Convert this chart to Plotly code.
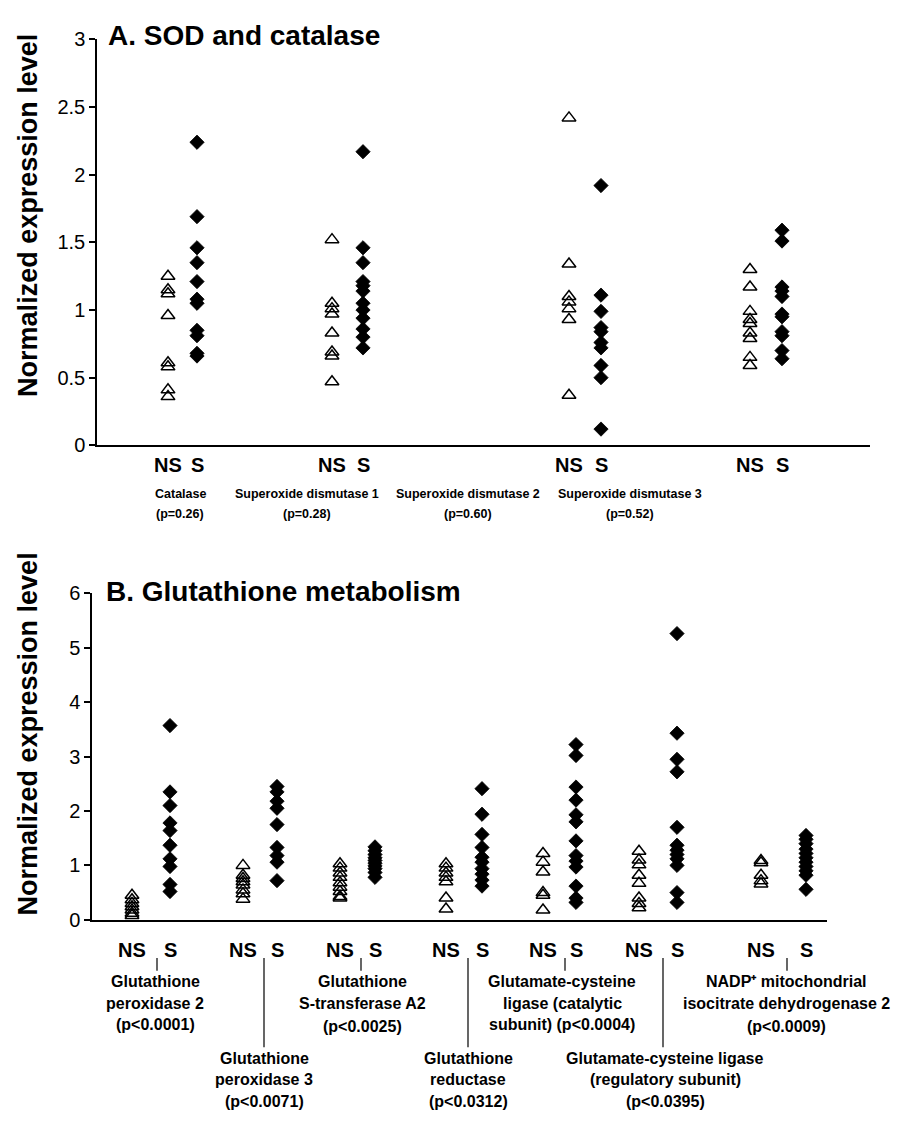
import plotly.graph_objects as go

W, H = 898, 1121

# ---------------- Data: Panel A (SOD and catalase) ----------------
A_GENES = ["Catalase", "Superoxide dismutase 1", "Superoxide dismutase 2", "Superoxide dismutase 3"]
A_PVALS = ["(p=0.26)", "(p=0.28)", "(p=0.60)", "(p=0.52)"]
A_NS = [
    [1.25, 1.15, 1.12, 0.96, 0.61, 0.58, 0.41, 0.36],
    [1.52, 1.05, 1.01, 0.97, 0.83, 0.69, 0.66, 0.47],
    [2.42, 1.34, 1.10, 1.06, 1.01, 0.93, 0.37],
    [1.30, 1.17, 0.99, 0.93, 0.90, 0.83, 0.79, 0.65, 0.59],
]
A_S = [
    [2.24, 1.69, 1.46, 1.35, 1.21, 1.08, 1.05, 0.85, 0.81, 0.68, 0.66],
    [2.17, 1.46, 1.35, 1.21, 1.18, 1.14, 1.05, 1.00, 0.94, 0.86, 0.80, 0.72],
    [1.92, 1.11, 0.99, 0.87, 0.84, 0.76, 0.72, 0.59, 0.50, 0.12],
    [1.59, 1.51, 1.17, 1.14, 1.10, 0.97, 0.95, 0.84, 0.81, 0.70, 0.64],
]
A_YTICKS = [0, 0.5, 1, 1.5, 2, 2.5, 3]
A_YTICKTEXT = ["0", "0.5", "1", "1.5", "2", "2.5", "3"]

# ---------------- Data: Panel B (Glutathione metabolism) ----------------
B_LABELS = [
    ["Glutathione", "peroxidase 2", "(p<0.0001)"],
    ["Glutathione", "peroxidase 3", "(p<0.0071)"],
    ["Glutathione", "S-transferase A2", "(p<0.0025)"],
    ["Glutathione", "reductase", "(p<0.0312)"],
    ["Glutamate-cysteine", "ligase (catalytic", "subunit) (p<0.0004)"],
    ["Glutamate-cysteine ligase", "(regulatory subunit)", "(p<0.0395)"],
    ["NADP\u207a mitochondrial", "isocitrate dehydrogenase 2", "(p<0.0009)"],
]
B_NS = [
    [0.45, 0.37, 0.30, 0.24, 0.18, 0.12, 0.08],
    [1.00, 0.82, 0.76, 0.70, 0.64, 0.55, 0.48, 0.38],
    [1.03, 0.95, 0.86, 0.78, 0.68, 0.60, 0.52, 0.43, 0.40],
    [1.03, 0.95, 0.86, 0.78, 0.70, 0.40, 0.20],
    [1.22, 1.06, 0.88, 0.50, 0.45, 0.18],
    [1.26, 1.10, 1.01, 0.82, 0.67, 0.40, 0.30, 0.22],
    [1.09, 1.05, 0.82, 0.72, 0.66],
]
B_S = [
    [3.57, 2.35, 2.10, 1.78, 1.64, 1.37, 1.12, 0.98, 0.65, 0.52],
    [2.45, 2.35, 2.18, 2.05, 1.75, 1.33, 1.18, 1.06, 0.72],
    [1.34, 1.27, 1.20, 1.14, 1.09, 1.04, 0.99, 0.94, 0.87, 0.78],
    [2.41, 1.94, 1.57, 1.33, 1.15, 1.06, 0.94, 0.84, 0.73, 0.62],
    [3.22, 3.02, 2.44, 2.20, 1.93, 1.80, 1.45, 1.18, 1.08, 0.97, 0.62, 0.40, 0.32],
    [5.26, 3.43, 2.95, 2.72, 1.70, 1.37, 1.28, 1.20, 1.12, 1.00, 0.50, 0.32],
    [1.55, 1.48, 1.40, 1.30, 1.22, 1.14, 1.06, 0.98, 0.90, 0.82, 0.56],
]
B_YTICKS = [0, 1, 2, 3, 4, 5, 6]
GROUP_NAMES = ["NS", "S"]

# ---------------- Layout constants (x axis units = page pixels) ----------------
A_NS_X = [168, 332, 569, 750]
A_S_X = [197, 363, 601, 782]
A_LABEL_X = [180, 307, 468, 630]
B_NS_X = [132, 243, 340, 446, 543, 639, 761]
B_S_X = [170, 277, 375, 482, 576, 677, 806]
B_TICK_X = [157, 264, 361, 468, 565, 663, 787]
B_LABEL_X = [155, 264, 362, 468, 562, 665, 786]
B_LONG = [False, True, False, True, False, True, False]

FONT = "Liberation Sans, Arial, sans-serif"


def py(p):
    return 1 - p / H


TRI = dict(symbol="triangle-up-open", size=12, color="black", line=dict(width=1.5, color="black"))
DIA = dict(symbol="diamond", size=11, color="black", line=dict(width=0.8, color="black"))

fig = go.Figure()

for xs, ys, m, xa, ya in (
    (A_NS_X, A_NS, TRI, "x", "y"),
    (A_S_X, A_S, DIA, "x", "y"),
    (B_NS_X, B_NS, TRI, "x2", "y2"),
    (B_S_X, B_S, DIA, "x2", "y2"),
):
    for xpos, vals in zip(xs, ys):
        fig.add_trace(go.Scatter(
            x=[xpos] * len(vals), y=vals, mode="markers", marker=m,
            xaxis=xa, yaxis=ya, showlegend=False, cliponaxis=False,
        ))

ann = []
# Titles
ann.append(dict(text="<b>A. SOD and catalase</b>", x=106 / W, y=py(25), xref="paper", yref="paper",
                xanchor="left", yanchor="middle", showarrow=False,
                font=dict(family=FONT, size=28, color="black")))
ann.append(dict(text="<b>B. Glutathione metabolism</b>", x=104 / W, y=py(592), xref="paper", yref="paper",
                xanchor="left", yanchor="middle", showarrow=False,
                font=dict(family=FONT, size=28, color="black")))
# Y titles
for yc in (209, 738):
    ann.append(dict(text="<b>Normalized expression level</b>", x=28 / W, y=py(yc), xref="paper", yref="paper",
                    xanchor="center", yanchor="middle", textangle=-90, showarrow=False,
                    font=dict(family=FONT, size=27, color="black")))

# Panel A group labels
for i in range(4):
    for xpos, name in ((A_NS_X[i], GROUP_NAMES[0]), (A_S_X[i], GROUP_NAMES[1])):
        ann.append(dict(text="<b>%s</b>" % name, x=xpos, y=py(463), xref="x", yref="paper",
                        xanchor="center", yanchor="middle", showarrow=False,
                        font=dict(family=FONT, size=20, color="black")))
    ann.append(dict(text="<b>%s</b>" % A_GENES[i], x=A_LABEL_X[i], y=py(493), xref="x", yref="paper",
                    xanchor="center", yanchor="middle", showarrow=False,
                    font=dict(family=FONT, size=12.5, color="black")))
    ann.append(dict(text="<b>%s</b>" % A_PVALS[i], x=A_LABEL_X[i], y=py(513), xref="x", yref="paper",
                    xanchor="center", yanchor="middle", showarrow=False,
                    font=dict(family=FONT, size=12.5, color="black")))

shapes = []
for i in range(7):
    for xpos, name in ((B_NS_X[i], GROUP_NAMES[0]), (B_S_X[i], GROUP_NAMES[1])):
        ann.append(dict(text="<b>%s</b>" % name, x=xpos, y=py(958), xref="x2", yref="paper",
                        xanchor="center", yanchor="middle", showarrow=False,
                        font=dict(family=FONT, size=20, color="black")))
    rows = [1068, 1090, 1112] if B_LONG[i] else [990, 1012, 1034]
    if i in (2, 6):
        rows = [990, 1012, 1036]
    for line, yy in zip(B_LABELS[i], rows):
        ann.append(dict(text="<b>%s</b>" % line, x=B_LABEL_X[i], y=py(yy), xref="x2", yref="paper",
                        xanchor="center", yanchor="middle", showarrow=False,
                        font=dict(family=FONT, size=16, color="black")))
    shapes.append(dict(type="line", xref="x2", yref="paper", x0=B_TICK_X[i], x1=B_TICK_X[i],
                       y0=py(966), y1=py(1057 if B_LONG[i] else 979),
                       line=dict(color="black", width=1.2)))

axis_common = dict(showgrid=False, zeroline=False, showline=True, linecolor="black")

fig.update_layout(
    width=W, height=H, margin=dict(l=0, r=0, t=0, b=0),
    paper_bgcolor="white", plot_bgcolor="white",
    xaxis=dict(domain=[97 / W, 870 / W], range=[97, 870], anchor="y", linewidth=2,
               showticklabels=False, ticks="", **axis_common),
    yaxis=dict(domain=[py(443), py(29)], range=[0, 3], anchor="x", linewidth=1.5,
               tickvals=A_YTICKS, ticktext=A_YTICKTEXT, ticks="outside", ticklen=6, tickwidth=1.5,
               tickcolor="black", tickfont=dict(family=FONT, size=20, color="black"), **axis_common),
    xaxis2=dict(domain=[92 / W, 827 / W], range=[92, 827], anchor="y2", linewidth=2,
                showticklabels=False, ticks="", **axis_common),
    yaxis2=dict(domain=[py(927), py(594)], range=[0, 6], anchor="x2", linewidth=1.5,
                tickvals=B_YTICKS, ticks="outside", ticklen=6, tickwidth=1.5,
                tickcolor="black", tickfont=dict(family=FONT, size=20, color="black"), **axis_common),
    annotations=ann, shapes=shapes,
)

fig.write_html("out.html")
